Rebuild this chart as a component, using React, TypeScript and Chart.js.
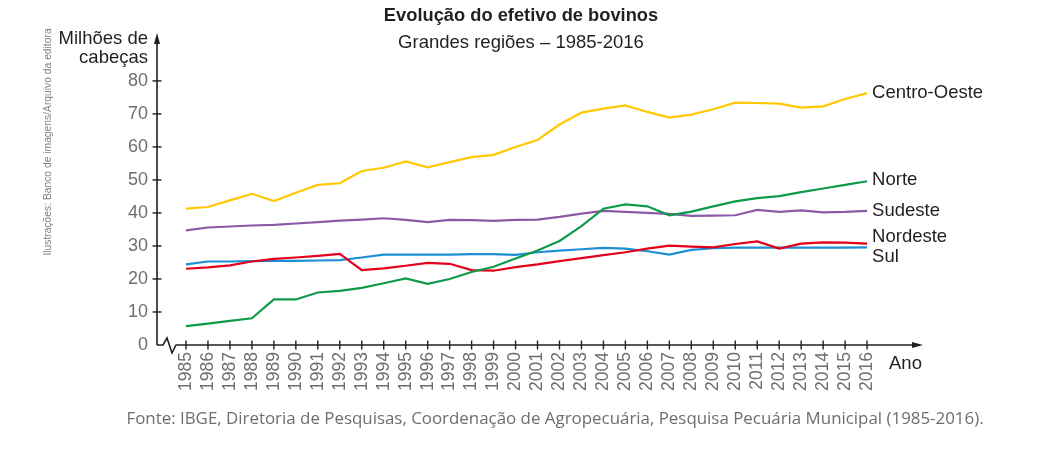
import { useEffect, useRef } from 'react';
import { Chart, registerables } from 'chart.js';

Chart.register(...registerables);

const years = [
  1985, 1986, 1987, 1988, 1989, 1990, 1991, 1992, 1993, 1994, 1995, 1996, 1997, 1998, 1999, 2000,
  2001, 2002, 2003, 2004, 2005, 2006, 2007, 2008, 2009, 2010, 2011, 2012, 2013, 2014, 2015, 2016,
];

const centroOeste = [
  41.3, 41.8, 43.8, 45.8, 43.6, 46.1, 48.5, 49.0, 52.7, 53.7, 55.6, 53.8, 55.4, 56.9, 57.6, 60.0,
  62.1, 66.8, 70.4, 71.6, 72.6, 70.6, 68.9, 69.8, 71.4, 73.4, 73.3, 73.1, 71.9, 72.3, 74.5, 76.3,
];
const norte = [
  5.7, 6.5, 7.3, 8.1, 13.8, 13.8, 15.9, 16.4, 17.3, 18.7, 20.2, 18.5, 20.0, 22.1, 23.7, 26.2,
  28.6, 31.5, 36.0, 41.3, 42.6, 42.0, 39.3, 40.4, 42.0, 43.5, 44.5, 45.1, 46.3, 47.4, 48.5, 49.6,
];
const sudeste = [
  34.7, 35.6, 35.9, 36.2, 36.4, 36.8, 37.2, 37.7, 38.0, 38.4, 37.9, 37.2, 37.9, 37.8, 37.6, 37.9,
  38.0, 38.8, 39.8, 40.6, 40.3, 40.0, 39.7, 39.1, 39.2, 39.3, 40.9, 40.3, 40.8, 40.2, 40.3, 40.6,
];
const nordeste = [
  23.1, 23.5, 24.1, 25.3, 26.1, 26.5, 27.0, 27.6, 22.7, 23.2, 24.0, 24.9, 24.6, 22.7, 22.5, 23.6,
  24.4, 25.4, 26.3, 27.2, 28.1, 29.2, 30.1, 29.8, 29.6, 30.6, 31.4, 29.2, 30.7, 31.1, 31.0, 30.7,
];
const sul = [
  24.4, 25.3, 25.3, 25.4, 25.5, 25.5, 25.6, 25.7, 26.5, 27.4, 27.4, 27.4, 27.4, 27.5, 27.5, 27.3,
  28.1, 28.6, 29.0, 29.4, 29.2, 28.4, 27.4, 28.8, 29.3, 29.5, 29.5, 29.5, 29.5, 29.5, 29.5, 29.6,
];

const seriesNames = ['Centro-Oeste', 'Norte', 'Sudeste', 'Nordeste', 'Sul'];
const yTicks = [0, 10, 20, 30, 40, 50, 60, 70, 80];

const titleText = 'Evolução do efetivo de bovinos';
const subtitleText = 'Grandes regiões – 1985-2016';
const yAxisTitle = ['Milhões de', 'cabeças'];
const xAxisTitle = 'Ano';
const sourceText =
  'Fonte: IBGE, Diretoria de Pesquisas, Coordenação de Agropecuária, Pesquisa Pecuária Municipal (1985-2016).';
const creditText = 'Ilustrações: Banco de imagens/Arquivo da editora';

const colors = ['#FFC800', '#0E9A48', '#8A5AA5', '#E2001A', '#1E8FD5'];
const labelOffsets = [0, -1, 0, -7, 10];

const AXIS = '#231F20';
const SANS = '"Liberation Sans", Arial, Helvetica, sans-serif';

const decorPlugin = {
  id: 'decor',
  beforeDatasetsDraw(chart: any) {
    const { ctx } = chart;
    const xs = chart.scales.x;
    const ys = chart.scales.y;
    const left = chart.chartArea.left;
    const bottom = ys.getPixelForValue(0);
    const top = chart.chartArea.top;
    const right = chart.chartArea.right;
    ctx.save();
    ctx.strokeStyle = AXIS;
    ctx.fillStyle = AXIS;
    ctx.lineWidth = 1.6;
    ctx.lineJoin = 'miter';
    // y axis
    ctx.beginPath();
    ctx.moveTo(left, bottom);
    ctx.lineTo(left, top + 6);
    ctx.stroke();
    ctx.beginPath();
    ctx.moveTo(left, top - 4);
    ctx.lineTo(left - 3, top + 7);
    ctx.lineTo(left + 3, top + 7);
    ctx.closePath();
    ctx.fill();
    // x axis with break
    ctx.beginPath();
    ctx.moveTo(left, bottom);
    ctx.lineTo(left + 6, bottom);
    ctx.lineTo(left + 10, bottom - 7);
    ctx.lineTo(left + 15, bottom + 8);
    ctx.lineTo(left + 19, bottom);
    ctx.lineTo(right - 8, bottom);
    ctx.stroke();
    ctx.beginPath();
    ctx.moveTo(right + 1, bottom);
    ctx.lineTo(right - 10, bottom - 3);
    ctx.lineTo(right - 10, bottom + 3);
    ctx.closePath();
    ctx.fill();
    // y ticks
    ctx.lineWidth = 1.4;
    yTicks.forEach((v) => {
      if (v === 0) return;
      const py = ys.getPixelForValue(v);
      ctx.beginPath();
      ctx.moveTo(left - 4.5, py);
      ctx.lineTo(left + 4.5, py);
      ctx.stroke();
    });
    // x ticks
    years.forEach((yr) => {
      const px = xs.getPixelForValue(yr);
      ctx.beginPath();
      ctx.moveTo(px, bottom - 4.5);
      ctx.lineTo(px, bottom + 4.5);
      ctx.stroke();
    });
    ctx.restore();
  },
  afterDraw(chart: any) {
    const { ctx } = chart;
    const xs = chart.scales.x;
    const ys = chart.scales.y;
    ctx.save();
    ctx.fillStyle = '#231F20';
    ctx.textBaseline = 'alphabetic';
    ctx.textAlign = 'center';
    ctx.font = `bold 18.3px ${SANS}`;
    ctx.fillText(titleText, 521, 21);
    ctx.font = `18.5px ${SANS}`;
    ctx.fillText(subtitleText, 521, 48);
    // y axis title
    ctx.textAlign = 'right';
    ctx.font = `18.5px ${SANS}`;
    ctx.fillText(yAxisTitle[0], 148, 44);
    ctx.fillText(yAxisTitle[1], 148, 63);
    // x axis title
    ctx.textAlign = 'left';
    ctx.fillText(xAxisTitle, 889, 369);
    // series labels
    const lastX = xs.getPixelForValue(years[years.length - 1]);
    chart.data.datasets.forEach((ds: any, i: number) => {
      const lastV = ds.data[ds.data.length - 1].y;
      const py = ys.getPixelForValue(lastV) + labelOffsets[i];
      ctx.textBaseline = 'middle';
      ctx.fillText(seriesNames[i], lastX + 5, py);
    });
    // source
    ctx.textBaseline = 'alphabetic';
    ctx.textAlign = 'center';
    ctx.fillStyle = '#6D6E71';
    ctx.font = `16.9px "Open Sans", ${SANS}`;
    ctx.fillText(sourceText, 555, 424);
    // credit
    ctx.save();
    ctx.translate(48, 142);
    ctx.rotate(-Math.PI / 2);
    ctx.font = `10.3px ${SANS}`;
    ctx.fillStyle = '#808285';
    ctx.textBaseline = 'middle';
    ctx.fillText(creditText, 0, 0);
    ctx.restore();
    ctx.restore();
  },
};

export default function App() {
  const ref = useRef<HTMLCanvasElement | null>(null);
  useEffect(() => {
    document.body.style.margin = '0';
    const canvas = ref.current;
    if (!canvas) return;
    const seriesData = [centroOeste, norte, sudeste, nordeste, sul];
    const chart = new Chart(canvas, {
      type: 'line',
      data: {
        datasets: seriesData.map((arr, i) => ({
          label: seriesNames[i],
          data: arr.map((v, j) => ({ x: years[j], y: v })),
          borderColor: colors[i],
          backgroundColor: colors[i],
          borderWidth: 2.2,
          pointRadius: 0,
          tension: 0,
          fill: false,
        })),
      },
      plugins: [decorPlugin],
      options: {
        responsive: false,
        animation: false,
        layout: { padding: { left: 0, top: 37, right: 131, bottom: 0 } },
        plugins: {
          legend: { display: false },
          tooltip: { enabled: false },
          title: { display: false },
        },
        scales: {
          x: {
            type: 'linear',
            min: 1983.68,
            max: 2018.5,
            afterBuildTicks: (s: any) => {
              s.ticks = years.map((v) => ({ value: v }));
            },
            afterFit: (s: any) => {
              s.height = 108;
            },
            grid: { display: false, drawTicks: false },
            border: { display: false },
            ticks: {
              autoSkip: false,
              minRotation: 90,
              maxRotation: 90,
              padding: 7,
              color: '#6D6E71',
              font: { family: SANS, size: 17.5 },
              callback: (v: any) => String(v),
            },
          },
          y: {
            min: 0,
            max: 93.3,
            afterBuildTicks: (s: any) => {
              s.ticks = yTicks.map((v) => ({ value: v }));
            },
            afterFit: (s: any) => {
              s.width = 157;
            },
            grid: { display: false, drawTicks: false },
            border: { display: false },
            ticks: {
              padding: 9,
              color: '#6D6E71',
              font: { family: SANS, size: 18 },
              callback: (v: any) => String(v),
            },
          },
        },
      },
    });
    return () => chart.destroy();
  }, []);
  return (
    <canvas
      ref={ref}
      width={1053}
      height={453}
      style={{ display: 'block', width: 1053, height: 453 }}
    />
  );
}
